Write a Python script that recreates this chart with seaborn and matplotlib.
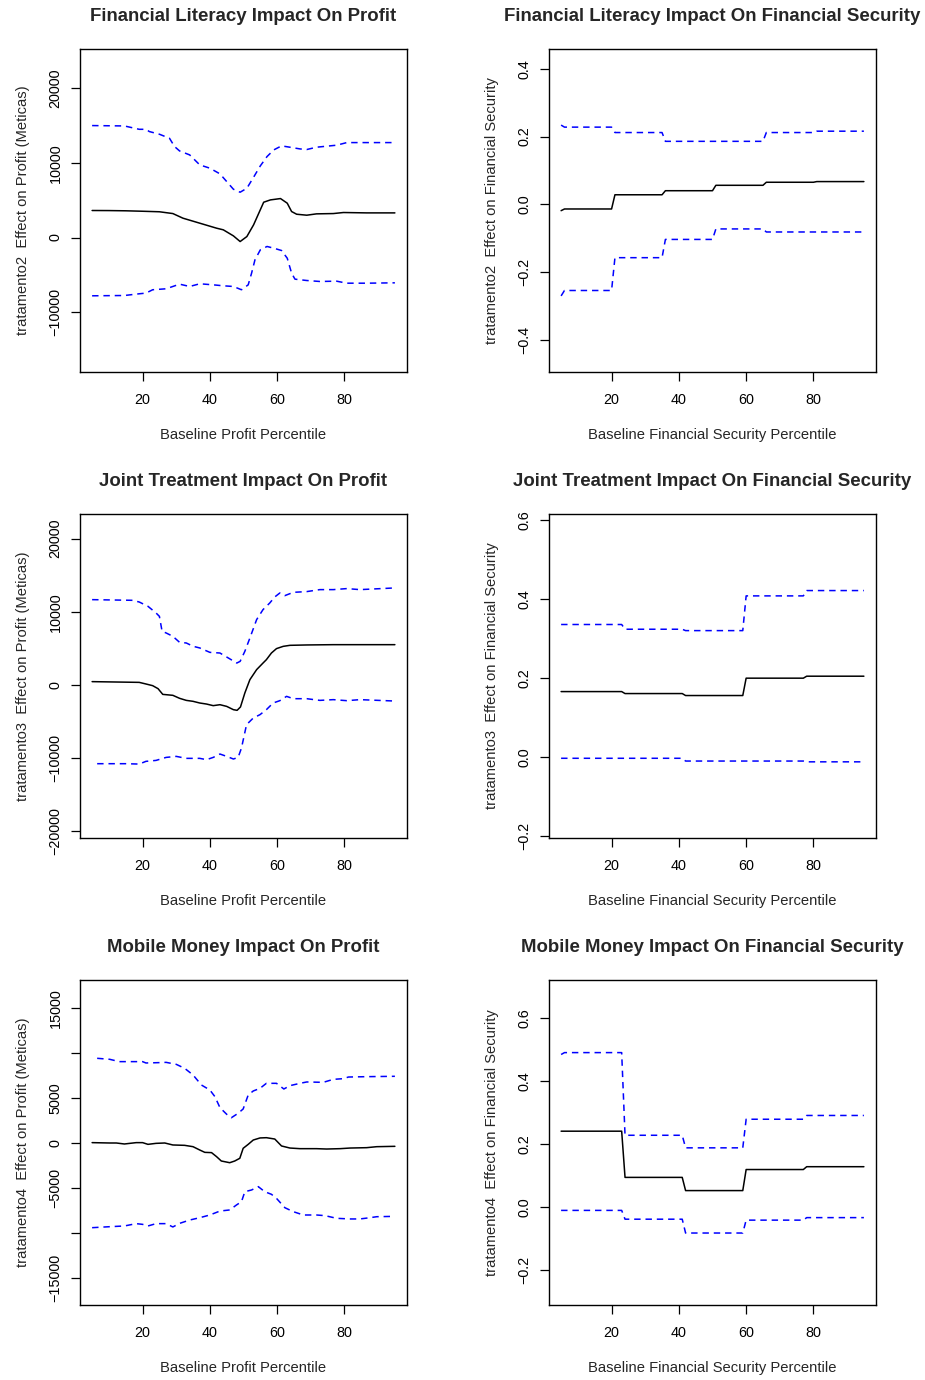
import matplotlib
matplotlib.use("Agg")
import matplotlib.pyplot as plt
import seaborn as sns

sns.set_style("ticks")
plt.rcParams["font.family"] = ["Liberation Sans", "DejaVu Sans"]

# ---------------- Financial literacy -> profit ----------------
fl_profit_est_x = [5, 10, 15, 20, 25, 29, 32, 37, 42, 44, 47, 49, 51, 53, 56, 58, 61, 63, 64.3, 65.8,
                   68.8, 71.7, 76.7, 79.7, 86.6, 95]
fl_profit_est = [3620, 3610, 3580, 3520, 3450, 3210, 2590, 1920, 1250, 1030, 220, -540, 130, 1700, 4730,
                 5040, 5220, 4600, 3480, 3120, 2990, 3170, 3210, 3350, 3300, 3300]
fl_profit_hi_x = [5, 14.6, 19, 21, 22, 25, 28, 29.5, 31, 34, 37, 40, 43, 45, 47, 49, 51, 53, 55, 57, 59,
                  61.3, 63.8, 66.8, 68.8, 71.7, 75.7, 77.7, 80.7, 86.6, 95]
fl_profit_hi = [15000, 14950, 14500, 14500, 14200, 13840, 13300, 12190, 11600, 11070, 9730, 9290, 8530,
                7500, 6470, 6070, 6600, 8080, 9600, 10850, 11740, 12280, 12100, 11870, 11790, 12100,
                12280, 12370, 12720, 12720, 12720]
fl_profit_lo_x = [5, 14.6, 19, 21, 23, 27, 29, 31, 34, 37, 41, 44, 47, 49.4, 51.4, 52.4, 53.4, 55, 57, 59,
                  61.3, 63, 64.3, 65.3, 68.8, 72.7, 77.7, 80.7, 86.6, 95]
fl_profit_lo = [-7810, -7770, -7540, -7450, -7000, -6870, -6560, -6250, -6560, -6200, -6340, -6470, -6560,
                -7000, -6340, -4780, -3000, -1650, -1200, -1430, -1740, -2770, -4780, -5580, -5760,
                -5890, -5850, -6120, -6120, -6070]

# ---------------- Financial literacy -> financial security ----------------
fl_sec_x = [5, 6, 20, 21, 35, 36, 50, 51, 65, 66, 80, 81, 95]
fl_sec_est = [-0.019, -0.014, -0.014, 0.028, 0.028, 0.040, 0.040, 0.056, 0.056, 0.065, 0.065, 0.067, 0.067]
fl_sec_hi = [0.234, 0.228, 0.228, 0.212, 0.212, 0.186, 0.186, 0.186, 0.186, 0.212, 0.212, 0.216, 0.216]
fl_sec_lo = [-0.271, -0.255, -0.255, -0.158, -0.158, -0.104, -0.104, -0.073, -0.073, -0.082, -0.082,
             -0.082, -0.082]

# ---------------- Joint treatment -> profit ----------------
jt_profit_est_x = [5, 19, 21, 23, 24.6, 26, 29, 31, 33, 35, 37, 39, 41, 43, 45, 47, 48.1, 49.1, 50.4, 51.9,
                   53.9, 55.8, 56.8, 58.3, 59.8, 61.8, 63.8, 68.8, 76.7, 86.6, 95]
jt_profit_est = [460, 360, 140, -90, -500, -1280, -1410, -1820, -2100, -2230, -2460, -2600, -2820, -2690,
                 -2920, -3370, -3460, -3000, -1090, 730, 2100, 3000, 3460, 4370, 4970, 5280, 5420, 5470,
                 5510, 5510, 5510]
jt_profit_hi_x = [5, 17, 19, 21.6, 24, 25, 25.8, 27, 29, 31, 33, 35, 37, 40, 43, 46, 48, 49, 50.4, 51.9,
                  53.9, 55.8, 57.8, 59.3, 60.8, 62.3, 64.8, 68.8, 72.7, 76.7, 80.7, 84.6, 95]
jt_profit_hi = [11660, 11570, 11340, 10750, 9840, 9380, 7330, 7110, 6650, 5830, 5740, 5290, 5060, 4460,
                4370, 3550, 3000, 3230, 4600, 6420, 8930, 10300, 11200, 12030, 12570, 12210, 12660,
                12760, 13030, 13030, 13170, 13030, 13260]
jt_profit_lo_x = [6.5, 15, 19, 21, 24, 27, 30, 33, 37, 39, 41, 43, 45, 47, 48.4, 49.4, 50.9, 52.9, 54.9,
                  56.8, 58.8, 60.8, 62.8, 64.8, 68.8, 72.7, 76.7, 80.7, 84.6, 95]
jt_profit_lo = [-10750, -10750, -10800, -10430, -10300, -9890, -9750, -10020, -10020, -10200, -9890,
                -9430, -9750, -10110, -9890, -8610, -5420, -4510, -4050, -3370, -2460, -2140, -1550,
                -1870, -1870, -2100, -2000, -2140, -2000, -2190]

# ---------------- Joint treatment -> financial security ----------------
jt_sec_x = [5, 23, 24, 41, 42, 59, 60, 77, 78, 95]
jt_sec_est = [0.166, 0.166, 0.161, 0.161, 0.156, 0.156, 0.200, 0.200, 0.205, 0.205]
jt_sec_hi = [0.336, 0.336, 0.324, 0.324, 0.3205, 0.3205, 0.4085, 0.4085, 0.422, 0.422]
jt_sec_lo = [-0.003, -0.003, -0.003, -0.003, -0.010, -0.010, -0.010, -0.010, -0.012, -0.012]

# ---------------- Mobile money -> profit ----------------
mm_profit_est_x = [5, 10.2, 12.2, 14.6, 18.1, 20, 21.6, 24, 26.6, 29, 32.5, 35, 37, 38.5, 40.5, 42, 43.4,
                   45.9, 47.4, 48.9, 49.9, 51.4, 52.9, 54.9, 56.8, 59.3, 61.3, 63.8, 66.8, 71.7, 74.7,
                   78.7, 81.7, 86.6, 89.6, 95]
mm_profit_est = [40, 0, 0, -110, 40, 40, -150, -40, 0, -220, -260, -410, -780, -1040, -1070, -1520, -2000,
                 -2190, -2000, -1700, -590, -150, 330, 560, 590, 440, -330, -560, -630, -630, -670, -630,
                 -560, -520, -410, -370]
mm_profit_hi_x = [6.5, 10.2, 13.1, 17.1, 20, 21, 25, 27, 30, 32.5, 35, 37.5, 40, 41.5, 43, 45, 46.4, 48.4,
                  49.9, 51.4, 52.9, 54.9, 56.8, 59.8, 62, 63.8, 66.8, 68.8, 73.7, 76.7, 79.7, 81.2, 86.6, 95]
mm_profit_hi = [9410, 9300, 9040, 9040, 9040, 8890, 8930, 8960, 8740, 8300, 7560, 6440, 5890, 5150, 3930,
                3190, 2810, 3300, 3780, 5330, 5780, 6070, 6630, 6630, 6000, 6370, 6630, 6780, 6740, 7070,
                7150, 7330, 7370, 7410]
mm_profit_lo_x = [5, 10.2, 14.6, 18.1, 20, 21.6, 24, 27, 29, 31, 34, 37, 40, 43, 45.9, 47.9, 49.4, 50.4,
                  52.4, 54.4, 56.3, 58.3, 59.8, 62.3, 64.8, 67.8, 71.7, 74.2, 77.7, 81.7, 84.6, 87.6, 89.6, 95]
mm_profit_lo = [-9410, -9300, -9220, -8960, -9040, -9220, -8960, -8960, -9330, -8930, -8560, -8300, -8000,
                -7560, -7440, -6890, -6520, -5410, -5220, -4850, -5410, -5700, -6150, -7190, -7630, -8000,
                -8000, -8070, -8370, -8440, -8440, -8300, -8190, -8150]

# ---------------- Mobile money -> financial security ----------------
mm_sec_x = [5, 23, 24, 41, 42, 59, 60, 77, 78, 95]
mm_sec_est = [0.241, 0.241, 0.094, 0.094, 0.052, 0.052, 0.119, 0.119, 0.128, 0.128]
mm_sec_hi_x = [5, 6, 23, 24, 41, 42, 59, 60, 77, 78, 95]
mm_sec_hi = [0.485, 0.491, 0.491, 0.228, 0.228, 0.188, 0.188, 0.279, 0.279, 0.291, 0.291]
mm_sec_lo = [-0.011, -0.011, -0.039, -0.039, -0.083, -0.083, -0.042, -0.042, -0.034, -0.034]

profit_xlabel = "Baseline Profit Percentile"
sec_xlabel = "Baseline Financial Security Percentile"

fig = plt.figure(figsize=(9.25, 13.8), dpi=100)
W, H = 925, 1380


def make_ax(left, top, bottom, right):
    return fig.add_axes([left / W, 1 - bottom / H, (right - left) / W, (bottom - top) / H])


def panel(ax, title, ylabel, xlabel, est, hi, lo, ylim, yticks, yticklabels):
    sns.lineplot(x=est[0], y=est[1], ax=ax, color="black", lw=1.1, sort=False, estimator=None)
    for xs, ys in (hi, lo):
        sns.lineplot(x=xs, y=ys, ax=ax, color="#0000FF", lw=1.1, sort=False, estimator=None,
                     linestyle=(0, (4.2, 3.2)))
    ax.set_xlim(1.4, 98.6)
    ax.set_ylim(*ylim)
    ax.set_xticks([20, 40, 60, 80])
    ax.set_xticklabels(["20", "40", "60", "80"])
    ax.set_yticks(yticks)
    ax.set_yticklabels(yticklabels, rotation=90, va="center")
    for s in ax.spines.values():
        s.set_visible(True)
        s.set_linewidth(1.0)
        s.set_color("black")
    ax.tick_params(direction="out", length=6.5, width=0.9, labelsize=10.4, colors="black")
    ax.tick_params(axis="x", pad=8.5)
    ax.tick_params(axis="y", pad=6)
    ax.set_title(title, fontsize=13.4, fontweight="bold", pad=20)
    ax.set_xlabel(xlabel, fontsize=10.6, labelpad=15)
    ax.set_ylabel(ylabel, fontsize=10.6, labelpad=13.5)


# row 1
ax = make_ax(80, 49, 372, 407)
panel(ax, "Financial Literacy Impact On Profit", "tratamento2  Effect on Profit (Meticas)", profit_xlabel,
      (fl_profit_est_x, fl_profit_est), (fl_profit_hi_x, fl_profit_hi), (fl_profit_lo_x, fl_profit_lo),
      (-18020, 25260), [-10000, 0, 10000, 20000], ["\u221210000", "0", "10000", "20000"])

ax = make_ax(549, 49, 372, 876)
panel(ax, "Financial Literacy Impact On Financial Security", "tratamento2  Effect on Financial Security",
      sec_xlabel, (fl_sec_x, fl_sec_est), (fl_sec_x, fl_sec_hi), (fl_sec_x, fl_sec_lo),
      (-0.496, 0.459), [-0.4, -0.2, 0.0, 0.2, 0.4], ["\u22120.4", "\u22120.2", "0.0", "0.2", "0.4"])

# row 2
ax = make_ax(80, 514, 838, 407)
panel(ax, "Joint Treatment Impact On Profit", "tratamento3  Effect on Profit (Meticas)", profit_xlabel,
      (jt_profit_est_x, jt_profit_est), (jt_profit_hi_x, jt_profit_hi), (jt_profit_lo_x, jt_profit_lo),
      (-20900, 23360), [-20000, -10000, 0, 10000, 20000],
      ["\u221220000", "\u221210000", "0", "10000", "20000"])

ax = make_ax(549, 514, 838, 876)
panel(ax, "Joint Treatment Impact On Financial Security", "tratamento3  Effect on Financial Security",
      sec_xlabel, (jt_sec_x, jt_sec_est), (jt_sec_x, jt_sec_hi), (jt_sec_x, jt_sec_lo),
      (-0.205, 0.616), [-0.2, 0.0, 0.2, 0.4, 0.6], ["\u22120.2", "0.0", "0.2", "0.4", "0.6"])

# row 3
ax = make_ax(80, 980, 1305, 407)
panel(ax, "Mobile Money Impact On Profit", "tratamento4  Effect on Profit (Meticas)", profit_xlabel,
      (mm_profit_est_x, mm_profit_est), (mm_profit_hi_x, mm_profit_hi), (mm_profit_lo_x, mm_profit_lo),
      (-18000, 18110), [-15000, -10000, -5000, 0, 5000, 10000, 15000],
      ["\u221215000", "", "\u22125000", "0", "5000", "", "15000"])

ax = make_ax(549, 980, 1305, 876)
panel(ax, "Mobile Money Impact On Financial Security", "tratamento4  Effect on Financial Security",
      sec_xlabel, (mm_sec_x, mm_sec_est), (mm_sec_hi_x, mm_sec_hi), (mm_sec_x, mm_sec_lo),
      (-0.312, 0.722), [-0.2, 0.0, 0.2, 0.4, 0.6], ["\u22120.2", "0.0", "0.2", "0.4", "0.6"])

fig.savefig("out.png", dpi=100, facecolor="white")
